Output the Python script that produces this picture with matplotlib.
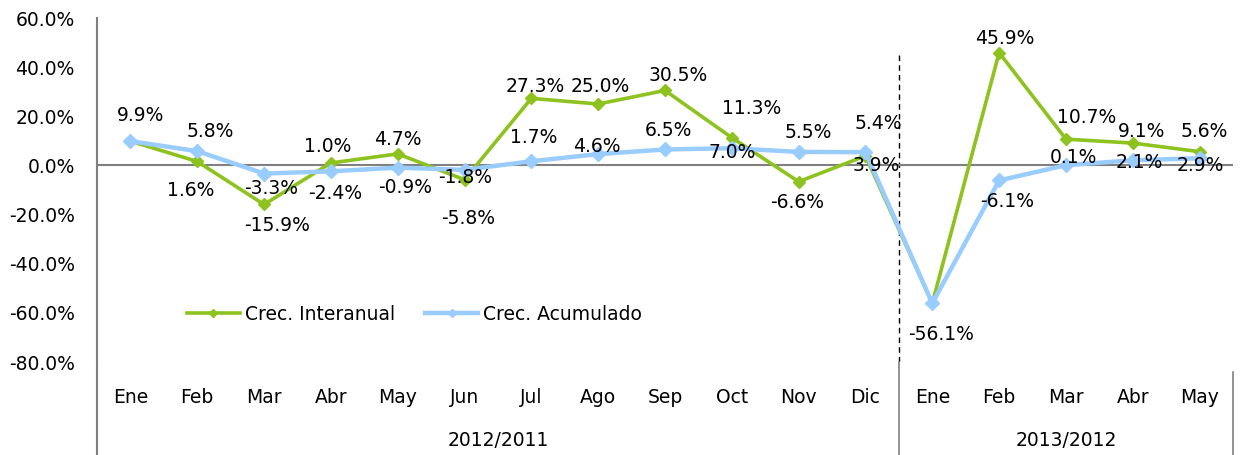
import matplotlib.pyplot as plt
import numpy as np

# Datos
meses = ['Ene', 'Feb', 'Mar', 'Abr', 'May', 'Jun', 'Jul', 'Ago', 'Sep', 'Oct', 'Nov', 'Dic',
         'Ene', 'Feb', 'Mar', 'Abr', 'May']
periodos = ['2012/2011', '2013/2012']
meses_por_periodo = [12, 5]

interanual = [9.9, 1.6, -15.9, 1.0, 4.7, -5.8, 27.3, 25.0, 30.5, 11.3, -6.6, 3.9,
              -56.1, 45.9, 10.7, 9.1, 5.6]
acumulado = [9.9, 5.8, -3.3, -2.4, -0.9, -1.8, 1.7, 4.6, 6.5, 7.0, 5.5, 5.4,
             -56.1, -6.1, 0.1, 2.1, 2.9]

# Desplazamiento de las etiquetas (pixeles, dx, dy hacia arriba); None = sin etiqueta
off_inter = [None, (-7, -29), (13, -21), (-3, 16), (0, 14), (4, -39), (4, 12), (2, 18),
             (13, 15), (20, 29), (-2, -21), (11, -10), None, (6, 14), (21, 22), (9, 12), (5, 20)]
off_acum = [(10, 26), (13, 20), (7, -15), (4, -22), (7, -20), (1, -8), (2, 24), (-1, 8),
            (3, 19), (0, -4), (10, 19), (13, 29), (9, -31), (8, -21), (7, 8), (7, -2), (1, -7)]

verde = '#8DC21F'
azul = '#99CCFF'
gris = '#808080'

plt.rcParams['font.family'] = ['DejaVu Sans']
fs = 13.5

fig = plt.figure(figsize=(12.41, 4.55), dpi=100)
ax = fig.add_axes([97 / 1241, 1 - 362 / 455, 1136 / 1241, 344 / 455])

x = np.arange(len(meses))
ax.plot(x, interanual, color=verde, lw=2.6, marker='D', ms=6, label='Crec. Interanual', zorder=3)
ax.plot(x, acumulado, color=azul, lw=3.2, marker='D', ms=7, label='Crec. Acumulado', zorder=4)

for serie, offs in [(interanual, off_inter), (acumulado, off_acum)]:
    for i, v in enumerate(serie):
        if offs[i] is None:
            continue
        ax.annotate(f'{v:.1f}%', (i, v), xytext=offs[i], textcoords='offset pixels',
                    ha='center', va='center', fontsize=fs, color='black', zorder=5)

ax.set_xlim(-0.5, len(meses) - 0.5)
ax.set_ylim(-80, 60)
ax.set_yticks(np.arange(-80, 61, 20))
ax.set_yticklabels([f'{t:.1f}%' for t in np.arange(-80, 61, 20)], fontsize=fs)
ax.set_xticks(x)
ax.set_xticklabels(meses, fontsize=fs)
ax.tick_params(axis='y', length=0, pad=16)
ax.tick_params(axis='x', length=0, pad=19)

for s in ['top', 'right', 'bottom']:
    ax.spines[s].set_visible(False)
ax.spines['left'].set_color(gris)
ax.spines['left'].set_linewidth(1.5)
ax.axhline(0, color=gris, lw=1.5, zorder=2)

# Lineas de la categoria de dos niveles
bot = (362 - 455) / 344
ax.plot([-0.5, -0.5], [0, bot], transform=ax.get_xaxis_transform(), color=gris, lw=1.5, clip_on=False)
ax.plot([11.5, 11.5], [0, bot], transform=ax.get_xaxis_transform(), color=gris, lw=1.2, clip_on=False)
ax.plot([16.5, 16.5], [-10 / 344, bot], transform=ax.get_xaxis_transform(), color=gris, lw=1.2, clip_on=False)
ax.axvline(11.5, ymin=0, ymax=(362 - 53) / 344, color='black', lw=1, ls=(0, (4, 3)), zorder=1)

inicio = 0
for nombre, n in zip(periodos, meses_por_periodo):
    ax.text(inicio + (n - 1) / 2, (362 - 440) / 344, nombre, transform=ax.get_xaxis_transform(),
            ha='center', va='center', fontsize=fs)
    inicio += n

leg = ax.legend(loc='center left', bbox_to_anchor=((187 - 97) / 1136, (362 - 314) / 344),
                ncol=2, frameon=False, fontsize=fs, borderpad=0, borderaxespad=0,
                handlelength=2.8, handletextpad=0.3, columnspacing=1.6)
for h in leg.legend_handles:
    h.set_markersize(4.5)

fig.savefig('out.png', dpi=100)
